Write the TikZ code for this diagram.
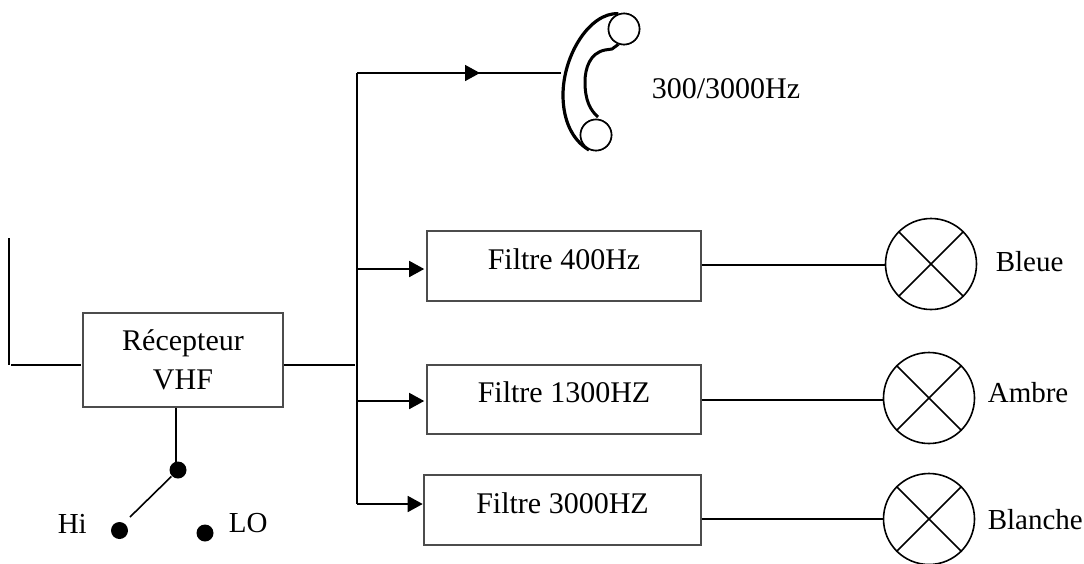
\documentclass[tikz,border=0pt]{standalone}
\usepackage{fontspec}
\setmainfont{Liberation Serif}
\usetikzlibrary{arrows.meta, positioning, calc}

\begin{document}
\begin{tikzpicture}[
    x=1pt, y=-1pt,
    >={Triangle[length=15pt,width=16pt]},
    line width=1.6pt,
    block/.style={
        rectangle,
        draw=black!70,
        fill=white,
        align=center,
        inner sep=0pt,
        font=\fontsize{30}{39}\selectfont
    },
    filterbox/.style={
        block,
        minimum height=69.5pt
    },
    lamp/.style={
        circle,
        draw,
        minimum size=91pt,
        inner sep=0pt
    },
    contact/.style={
        circle,
        fill=black,
        minimum size=17pt,
        inner sep=0pt
    },
    earpiece/.style={
        circle,
        draw,
        fill=white,
        minimum size=31pt,
        inner sep=0pt
    },
    legend/.style={
        inner sep=0pt,
        anchor=base west,
        font=\fontsize{29}{32}\selectfont
    }
]
    \useasboundingbox (0,0) rectangle (1084,563);

    % =========================================================
    % RECEIVER AND SWITCH
    % =========================================================
    \node [block, minimum width=200pt, minimum height=94pt] (receiver) at (183,360) {Récepteur\\ VHF};
    \coordinate (aerialtop) at (9,238);
    \coordinate (aerialfoot) at (9,365);
    \coordinate (aerialend) at (81,365);
    \draw (aerialtop) -- (aerialfoot);
    \draw ($(aerialfoot)+(2,0)$) -- (aerialend);

    \node [contact] (common) at (178,470) {};
    \node [contact] (hicontact) at (119.5,530.5) {};
    \node [contact] (locontact) at (205,533) {};
    \node [legend] (hilabel) at (57,533) {Hi};
    \node [legend] (lolabel) at (228,532) {LO};
    \coordinate (bladeend) at (130,517);
    \draw (receiver.south -| 176,0) -- (176,464);
    \draw (common) -- (bladeend);

    % =========================================================
    % FILTERS AND LAMPS
    % =========================================================
    \node [filterbox, minimum width=274pt] (filterblue) at (564,266) {\raisebox{14pt}{Filtre 400Hz}};
    \node [filterbox, minimum width=274pt] (filteramber) at (564,399.5) {\raisebox{15pt}{Filtre 1300HZ}};
    \node [filterbox, minimum width=277pt] (filterwhite) at (562.5,510) {\raisebox{14pt}{Filtre 3000HZ}};

    \node [lamp] (lampblue) at (931,264) {};
    \node [lamp] (lampamber) at (929,398) {};
    \node [lamp] (lampwhite) at (929,519) {};
    \foreach \name in {lampblue,lampamber,lampwhite}{
        \draw (\name.45) -- (\name.225);
        \draw (\name.135) -- (\name.315);
    }
    \node [legend] (labelblue) at (995,271) {Bleue};
    \node [legend] (labelamber) at (987,402) {Ambre};
    \node [legend] (labelwhite) at (987,529) {Blanche};

    % =========================================================
    % TELEPHONE
    % =========================================================
    \node [earpiece] (earpiecetop) at (624,29) {};
    \node [earpiece] (earpiecelow) at (596,135) {};
    \draw [line width=3.2pt] (earpiecetop.110) .. controls (590,12) and (563,55) .. (563,95)
        .. controls (563,120) and (572,140) .. (589,150);
    \draw [line width=3pt] (earpiecetop.250) -- (612,49) -- (605,50)
        .. controls (590,53) and (585,68) .. (585,82)
        .. controls (585,100) and (590,110) .. (598,117);
    \node [earpiece] at (earpiecetop) {};
    \node [earpiece] at (earpiecelow) {};
    \coordinate (phonein) at (561,73);
    \node [legend, font=\fontsize{30}{32}\selectfont] (labelphone) at (651,98) {300/3000Hz};

    % =========================================================
    % TRUNK AND BRANCHES
    % =========================================================
    \coordinate (trunktop) at (357,73);
    \coordinate (trunkbottom) at (357,504);
    \coordinate (trunkin) at (355,365);
    \coordinate (phonemid) at (480,73);
    \draw (trunktop) -- (trunkbottom);
    \draw (receiver.east |- trunkin) -- (trunkin);
    \draw [->] (trunktop) -- (phonemid);
    \draw ($(phonemid)+(-3,0)$) -- (phonein);
    \draw [->, shorten >=2pt] (trunktop |- 0,269) -- (filterblue.west |- 0,269);
    \draw [->, shorten >=2pt] (trunktop |- 0,401) -- (filteramber.west |- 0,401);
    \draw [->, shorten >=0.5pt] (trunkbottom) -- (filterwhite.west |- trunkbottom);

    \draw (filterblue.east |- 0,265) -- (lampblue.west |- 0,265);
    \draw (filteramber.east |- lampamber) ++(0,2) -- (lampamber.west |- 0,400);
    \draw (filterwhite.east |- lampwhite) -- (lampwhite.west);
\end{tikzpicture}
\end{document}
